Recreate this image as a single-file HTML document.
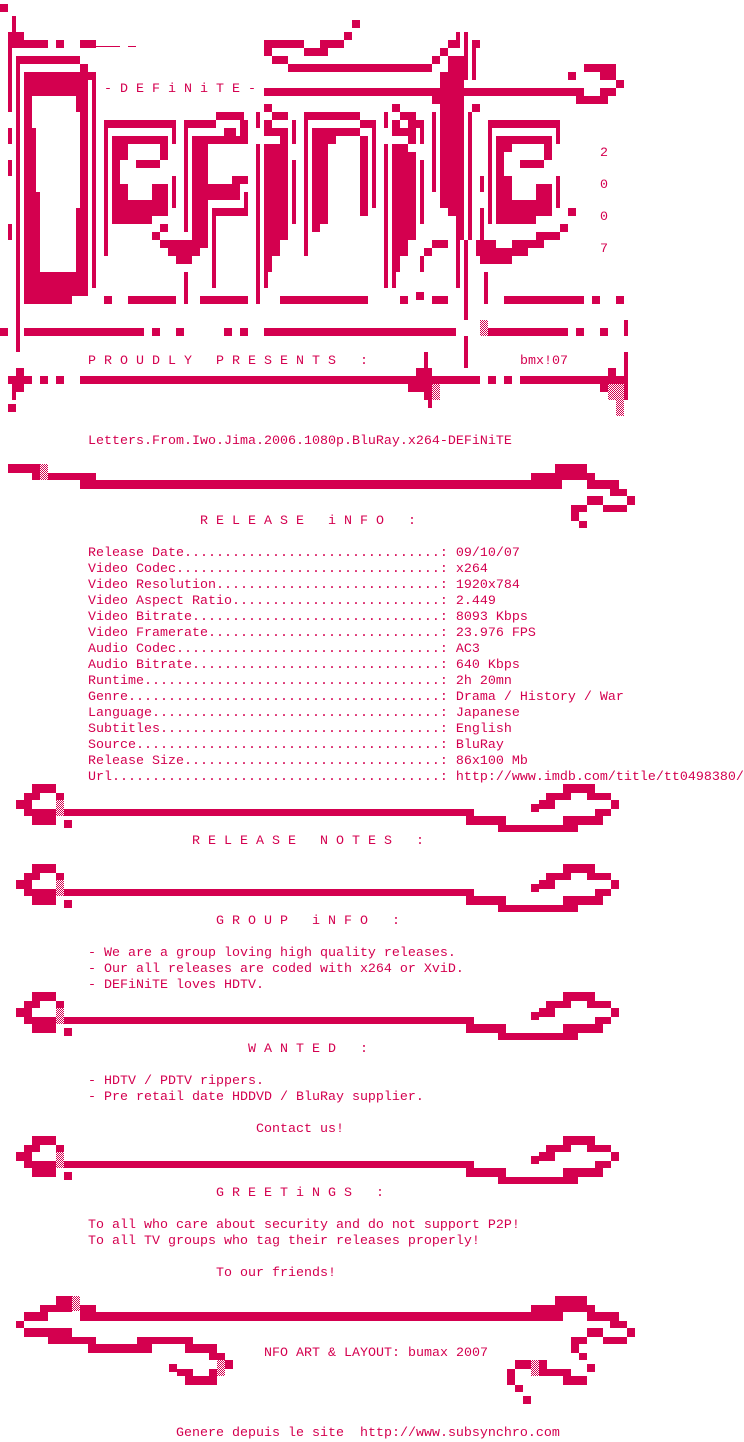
<!DOCTYPE html>
<html><head><meta charset="utf-8"><style>
html,body{margin:0;padding:0;background:#fff;}
body{width:744px;height:1440px;position:relative;overflow:hidden;}
svg{position:absolute;left:0;top:0;}
.t{position:absolute;white-space:pre;font-family:"Liberation Mono",monospace;font-size:13.33px;line-height:16px;color:#d4004f;height:16px;margin-top:2px;}
</style></head><body>
<svg width="744" height="1440" viewBox="0 0 744 1440">
<defs>
<pattern id="dt" width="2" height="2" patternUnits="userSpaceOnUse"><rect width="2" height="2" fill="#fff"/><rect width="1" height="1" fill="#d4004f"/><rect x="1" y="1" width="1" height="1" fill="#d4004f"/></pattern>
<g id="sep">
<rect x="32" y="0" width="24" height="9"/>
<rect x="24" y="9" width="16" height="7"/><rect x="56" y="9" width="8" height="7"/>
<rect x="16" y="16" width="16" height="9"/>
<rect x="56" y="16" width="8" height="16" fill="url(#dt)"/>
<rect x="24" y="25" width="32" height="7"/><rect x="64" y="25" width="410" height="7"/>
<rect x="32" y="32" width="24" height="9"/>
<rect x="64" y="36" width="8" height="8"/>
<rect x="563" y="0" width="32" height="9"/>
<rect x="546" y="9" width="25" height="7"/><rect x="587" y="9" width="24" height="7"/>
<rect x="539" y="16" width="16" height="9"/><rect x="611" y="16" width="8" height="9"/>
<rect x="531" y="20" width="8" height="8"/>
<rect x="466" y="25" width="8" height="7"/><rect x="595" y="25" width="16" height="7"/>
<rect x="466" y="32" width="40" height="9"/><rect x="563" y="32" width="40" height="9"/>
<rect x="498" y="41" width="80" height="7"/>
</g>
</defs>
<g fill="#d4004f">
<rect x="0" y="4" width="8" height="8"/>
<rect x="12" y="16" width="4" height="16"/>
<rect x="8" y="32" width="16" height="8"/>
<rect x="8" y="40" width="40" height="8"/><rect x="56" y="40" width="8" height="8"/><rect x="80" y="40" width="16" height="8"/>
<rect x="96" y="46" width="24" height="1"/><rect x="128" y="46" width="8" height="1"/>
<rect x="8" y="48" width="4" height="64"/>
<rect x="16" y="56" width="64" height="8"/><rect x="16" y="56" width="4" height="296"/>
<rect x="80" y="64" width="8" height="8"/><rect x="88" y="72" width="8" height="8"/><rect x="92" y="72" width="4" height="216"/>
<rect x="8" y="128" width="4" height="16"/><rect x="8" y="160" width="4" height="16"/><rect x="8" y="224" width="4" height="16"/>
<path d="M24 72H88V296H72V304H24Z M32 96V128H36V192H40V272H76V208H80V112H76V96Z" fill-rule="evenodd"/>
<rect x="104" y="120" width="72" height="8"/><rect x="104" y="120" width="4" height="136"/>
<rect x="172" y="120" width="4" height="24"/><rect x="172" y="176" width="4" height="32"/>
<path d="M112 136H168V160H160V144H128V160H120V184H128V200H152V184H168V216H152V224H112Z" fill-rule="evenodd"/>
<rect x="136" y="160" width="24" height="8"/>
<rect x="160" y="224" width="8" height="8"/><rect x="152" y="232" width="8" height="8"/>
<rect x="160" y="240" width="48" height="8"/><rect x="168" y="248" width="32" height="8"/><rect x="176" y="256" width="16" height="8"/>
<rect x="184" y="120" width="32" height="8"/><rect x="184" y="120" width="4" height="112"/>
<rect x="216" y="112" width="28" height="8"/><rect x="240" y="120" width="8" height="16"/>
<rect x="224" y="128" width="12" height="8"/>
<rect x="192" y="136" width="56" height="8"/><rect x="192" y="136" width="16" height="112"/>
<rect x="232" y="176" width="16" height="8"/><rect x="208" y="184" width="32" height="16"/>
<rect x="244" y="192" width="4" height="24"/><rect x="212" y="208" width="36" height="8"/><rect x="212" y="208" width="4" height="80"/>
<rect x="184" y="272" width="4" height="32"/>
<rect x="256" y="112" width="4" height="16"/><rect x="256" y="144" width="4" height="160"/>
<rect x="264" y="104" width="8" height="8"/><rect x="272" y="112" width="16" height="8"/>
<rect x="264" y="120" width="8" height="16"/><rect x="264" y="128" width="24" height="8"/><rect x="280" y="136" width="8" height="8"/>
<rect x="264" y="144" width="24" height="96"/><rect x="264" y="240" width="16" height="16"/><rect x="264" y="256" width="8" height="16"/><rect x="264" y="272" width="4" height="16"/>
<rect x="292" y="120" width="4" height="24"/><rect x="292" y="160" width="4" height="64"/>
<rect x="304" y="112" width="56" height="8"/><rect x="304" y="112" width="4" height="144"/>
<rect x="360" y="120" width="16" height="8"/>
<rect x="312" y="128" width="48" height="8"/><rect x="312" y="136" width="24" height="8"/>
<rect x="312" y="144" width="16" height="80"/><rect x="312" y="224" width="8" height="8"/>
<rect x="360" y="136" width="8" height="80"/>
<rect x="372" y="120" width="4" height="88"/>
<rect x="352" y="20" width="8" height="8"/><rect x="344" y="32" width="8" height="8"/>
<rect x="264" y="40" width="40" height="8"/><rect x="320" y="40" width="24" height="8"/>
<rect x="264" y="48" width="8" height="8"/><rect x="304" y="48" width="24" height="8"/>
<rect x="272" y="56" width="16" height="8"/><rect x="288" y="64" width="144" height="8"/>
<rect x="432" y="56" width="8" height="8"/><rect x="440" y="48" width="8" height="8"/><rect x="448" y="40" width="12" height="8"/><rect x="456" y="32" width="4" height="16"/>
<rect x="464" y="32" width="4" height="48"/><rect x="472" y="40" width="8" height="8"/><rect x="472" y="48" width="4" height="32"/>
<rect x="448" y="56" width="16" height="24"/><rect x="440" y="72" width="24" height="24"/>
<rect x="264" y="88" width="320" height="8"/>
<rect x="432" y="96" width="32" height="8"/><rect x="440" y="104" width="24" height="104"/>
<rect x="448" y="208" width="16" height="8"/><rect x="456" y="216" width="8" height="24"/><rect x="456" y="240" width="4" height="48"/>
<rect x="464" y="240" width="4" height="80"/><rect x="464" y="336" width="4" height="32"/>
<rect x="584" y="64" width="32" height="8"/><rect x="568" y="72" width="8" height="8"/><rect x="600" y="72" width="16" height="8"/>
<rect x="616" y="80" width="8" height="8"/><rect x="600" y="88" width="16" height="8"/><rect x="576" y="96" width="32" height="8"/>
<rect x="384" y="112" width="4" height="16"/><rect x="392" y="104" width="8" height="8"/><rect x="400" y="112" width="16" height="8"/>
<rect x="392" y="120" width="8" height="16"/><rect x="392" y="128" width="24" height="8"/><rect x="408" y="120" width="12" height="8"/><rect x="408" y="136" width="8" height="8"/>
<rect x="420" y="120" width="4" height="24"/>
<rect x="384" y="144" width="4" height="144"/>
<rect x="392" y="144" width="16" height="8"/><rect x="392" y="152" width="24" height="88"/><rect x="392" y="240" width="16" height="16"/><rect x="392" y="256" width="8" height="16"/><rect x="392" y="272" width="4" height="16"/>
<rect x="420" y="160" width="4" height="64"/><rect x="420" y="256" width="4" height="16"/>
<rect x="432" y="112" width="4" height="80"/>
<rect x="432" y="240" width="16" height="8"/><rect x="424" y="248" width="8" height="8"/>
<rect x="468" y="112" width="4" height="128"/><rect x="472" y="104" width="8" height="8"/>
<rect x="480" y="176" width="4" height="16"/><rect x="480" y="208" width="4" height="32"/><rect x="484" y="272" width="4" height="32"/>
<rect x="488" y="120" width="72" height="8"/><rect x="488" y="120" width="4" height="104"/>
<rect x="556" y="120" width="4" height="24"/><rect x="556" y="176" width="4" height="32"/>
<path d="M496 136H552V160H544V144H512V152H504V176H512V200H536V184H552V216H536V224H496Z" fill-rule="evenodd"/>
<rect x="520" y="160" width="24" height="8"/>
<rect x="568" y="208" width="8" height="8"/><rect x="560" y="224" width="8" height="8"/><rect x="536" y="232" width="24" height="8"/>
<rect x="476" y="240" width="20" height="16"/><rect x="512" y="240" width="32" height="8"/><rect x="480" y="248" width="48" height="8"/><rect x="480" y="256" width="32" height="8"/>
<rect x="104" y="296" width="8" height="8"/><rect x="128" y="296" width="48" height="8"/><rect x="200" y="296" width="48" height="8"/>
<rect x="280" y="296" width="88" height="8"/><rect x="400" y="296" width="8" height="8"/><rect x="416" y="292" width="8" height="8"/><rect x="432" y="296" width="16" height="8"/>
<rect x="504" y="296" width="80" height="8"/><rect x="592" y="296" width="8" height="8"/><rect x="616" y="296" width="8" height="8"/>
<rect x="0" y="328" width="8" height="8"/><rect x="24" y="328" width="120" height="8"/><rect x="152" y="328" width="8" height="8"/><rect x="176" y="328" width="8" height="8"/>
<rect x="224" y="328" width="8" height="8"/><rect x="240" y="328" width="8" height="8"/><rect x="264" y="328" width="192" height="8"/>
<rect x="480" y="320" width="8" height="16" fill="url(#dt)"/><rect x="488" y="328" width="80" height="8"/>
<rect x="576" y="328" width="8" height="8"/><rect x="600" y="328" width="8" height="8"/><rect x="624" y="320" width="4" height="16"/>
<rect x="16" y="368" width="8" height="8"/><rect x="8" y="376" width="24" height="8"/><rect x="12" y="384" width="12" height="8"/><rect x="12" y="392" width="4" height="8"/><rect x="8" y="404" width="8" height="8"/>
<rect x="40" y="376" width="8" height="8"/><rect x="56" y="376" width="8" height="8"/>
<rect x="80" y="376" width="400" height="8"/><rect x="488" y="376" width="8" height="8"/><rect x="504" y="376" width="8" height="8"/><rect x="520" y="376" width="108" height="8"/>
<rect x="424" y="352" width="4" height="16"/><rect x="416" y="368" width="16" height="8"/><rect x="408" y="384" width="24" height="8"/><rect x="424" y="392" width="8" height="8"/><rect x="428" y="400" width="4" height="8"/>
<rect x="432" y="384" width="8" height="16" fill="url(#dt)"/>
<rect x="608" y="368" width="8" height="8"/><rect x="624" y="352" width="4" height="48"/><rect x="600" y="384" width="8" height="8"/>
<rect x="608" y="384" width="16" height="16" fill="url(#dt)"/><rect x="616" y="400" width="8" height="16" fill="url(#dt)"/>
<rect x="8" y="464" width="32" height="9"/><rect x="40" y="464" width="8" height="16" fill="url(#dt)"/>
<rect x="32" y="473" width="8" height="7"/><rect x="48" y="473" width="48" height="7"/>
<rect x="80" y="480" width="482" height="9"/>
<rect x="555" y="464" width="32" height="9"/><rect x="531" y="473" width="64" height="7"/>
<rect x="587" y="480" width="32" height="9"/><rect x="610" y="489" width="17" height="7"/><rect x="627" y="496" width="8" height="9"/>
<rect x="587" y="496" width="16" height="9"/><rect x="603" y="505" width="24" height="7"/><rect x="571" y="505" width="16" height="7"/>
<rect x="571" y="512" width="8" height="9"/><rect x="579" y="521" width="8" height="7"/>
<use href="#sep" y="784"/><use href="#sep" y="864"/><use href="#sep" y="992"/><use href="#sep" y="1136"/>
<rect x="56" y="1296" width="16" height="9"/><rect x="72" y="1296" width="8" height="15" fill="url(#dt)"/>
<rect x="40" y="1305" width="32" height="7"/><rect x="80" y="1305" width="16" height="7"/>
<rect x="24" y="1312" width="24" height="9"/><rect x="80" y="1312" width="483" height="9"/>
<rect x="16" y="1321" width="8" height="7"/><rect x="24" y="1328" width="48" height="9"/>
<rect x="48" y="1337" width="48" height="7"/><rect x="137" y="1337" width="56" height="7"/>
<rect x="88" y="1344" width="64" height="9"/><rect x="185" y="1344" width="32" height="9"/>
<rect x="209" y="1353" width="16" height="7"/><rect x="225" y="1360" width="8" height="9"/><rect x="217" y="1360" width="8" height="9" fill="url(#dt)"/>
<rect x="209" y="1369" width="8" height="7"/><rect x="217" y="1369" width="8" height="7" fill="url(#dt)"/>
<rect x="169" y="1364" width="8" height="8"/><rect x="177" y="1369" width="16" height="7"/><rect x="185" y="1376" width="32" height="9"/>
<rect x="555" y="1296" width="32" height="9"/><rect x="531" y="1305" width="64" height="7"/>
<rect x="587" y="1312" width="32" height="9"/><rect x="610" y="1321" width="17" height="7"/><rect x="627" y="1328" width="8" height="9"/>
<rect x="587" y="1328" width="16" height="9"/><rect x="603" y="1337" width="24" height="7"/><rect x="571" y="1337" width="16" height="7"/>
<rect x="571" y="1344" width="8" height="9"/><rect x="579" y="1353" width="8" height="7"/><rect x="587" y="1364" width="8" height="8"/>
<rect x="515" y="1360" width="16" height="9"/><rect x="531" y="1360" width="8" height="16" fill="url(#dt)"/><rect x="539" y="1360" width="8" height="9"/>
<rect x="539" y="1369" width="32" height="7"/><rect x="507" y="1369" width="8" height="16"/>
<rect x="563" y="1376" width="24" height="9"/><rect x="515" y="1385" width="8" height="7"/><rect x="523" y="1396" width="8" height="8"/>
</g>
</svg>
<div class="t" style="left:104px;top:80px">- D E F i N i T E -</div>
<div class="t" style="left:600px;top:144px">2</div>
<div class="t" style="left:600px;top:176px">0</div>
<div class="t" style="left:600px;top:208px">0</div>
<div class="t" style="left:600px;top:240px">7</div>
<div class="t" style="left:88px;top:352px">P R O U D L Y   P R E S E N T S   :</div>
<div class="t" style="left:520px;top:352px">bmx!07</div>
<div class="t" style="left:88px;top:432px">Letters.From.Iwo.Jima.2006.1080p.BluRay.x264-DEFiNiTE</div>
<div class="t" style="left:200px;top:512px">R E L E A S E   i N F O   :</div>
<div class="t" style="left:88px;top:544px">Release Date................................: 09/10/07
Video Codec.................................: x264
Video Resolution............................: 1920x784
Video Aspect Ratio..........................: 2.449
Video Bitrate...............................: 8093 Kbps
Video Framerate.............................: 23.976 FPS
Audio Codec.................................: AC3
Audio Bitrate...............................: 640 Kbps
Runtime.....................................: 2h 20mn
Genre.......................................: Drama / History / War
Language....................................: Japanese
Subtitles...................................: English
Source......................................: BluRay
Release Size................................: 86x100 Mb
Url.........................................: http://www.imdb.com/title/tt0498380/</div>
<div class="t" style="left:192px;top:832px">R E L E A S E   N O T E S   :</div>
<div class="t" style="left:216px;top:912px">G R O U P   i N F O   :</div>
<div class="t" style="left:88px;top:944px">- We are a group loving high quality releases.
- Our all releases are coded with x264 or XviD.
- DEFiNiTE loves HDTV.</div>
<div class="t" style="left:248px;top:1040px">W A N T E D   :</div>
<div class="t" style="left:88px;top:1072px">- HDTV / PDTV rippers.
- Pre retail date HDDVD / BluRay supplier.</div>
<div class="t" style="left:256px;top:1120px">Contact us!</div>
<div class="t" style="left:216px;top:1184px">G R E E T i N G S   :</div>
<div class="t" style="left:88px;top:1216px">To all who care about security and do not support P2P!
To all TV groups who tag their releases properly!</div>
<div class="t" style="left:216px;top:1264px">To our friends!</div>
<div class="t" style="left:264px;top:1344px">NFO ART &amp; LAYOUT: bumax 2007</div>
<div class="t" style="left:176px;top:1424px">Genere depuis le site  http://www.subsynchro.com</div>
</body></html>
